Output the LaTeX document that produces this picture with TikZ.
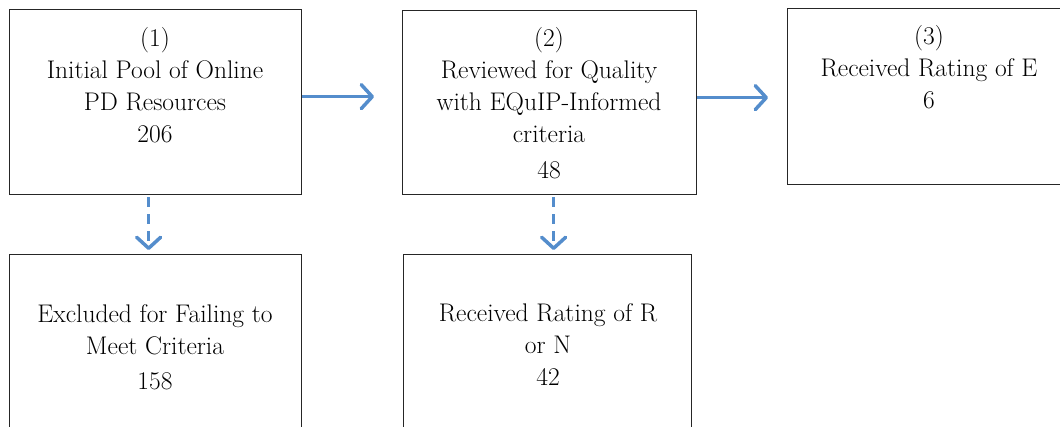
\documentclass[tikz,border=0pt]{standalone}
\usetikzlibrary{arrows.meta,calc}
\definecolor{flowblue}{RGB}{84,141,204}
\begin{document}
\begin{tikzpicture}[x=1pt,y=-1pt,
  box/.style={draw=black!85,line width=1.3pt,rectangle,anchor=north west,inner sep=0pt},
  lbl/.style={align=center,font=\fontsize{25.5}{32}\selectfont,inner sep=0pt,anchor=north},
  solidarrow/.style={draw=flowblue,line width=3pt,-{Straight Barb[length=11pt,width=24pt,line width=3.5pt,round]}},
  dasharrow/.style={draw=flowblue,line width=3pt,dash pattern=on 10pt off 7pt,-{Straight Barb[length=11pt,width=24pt,line width=3.5pt,round]}}]
\useasboundingbox (0,0) rectangle (1060,426);
\clip (0,0) rectangle (1060,426);
\node[box,minimum width=292pt,minimum height=185pt] (b1) at (9,9) {};
\node[box,minimum width=294pt,minimum height=184pt] (b2) at (402,10) {};
\node[box,minimum width=300pt,minimum height=176pt] (b3) at (787,8) {};
\node[box,minimum width=292pt,minimum height=200pt] (b4) at (9,254) {};
\node[box,minimum width=288pt,minimum height=200pt] (b5) at (403,254) {};
\node[lbl] (t1) at (155,27.5) {(1)\\Initial Pool of Online\\PD Resources\\206};
\node[lbl] (t2) at (549,27.5) {(2)\\Reviewed for Quality\\with EQuIP-Informed\\criteria\\[4pt]48};
\node[lbl] (t3) at (929,25) {(3)\\Received Rating of E\\6};
\node[lbl] (t4) at (155,304) {Excluded for Failing to\\Meet Criteria\\[3pt]158};
\node[lbl] (t5) at (548,303.5) {Received Rating of R\\or N\\42};
\draw[solidarrow] ($(b1.east)+(0,-5.5)$) -- ($(b2.west)+(-28,-6)$);
\draw[solidarrow] ($(b2.east)+(0,-5)$) -- ($(b3.west)+(-19,1)$);
\draw[dasharrow] ($(b1.south)+(-7,2)$) -- ($(b4.north)+(-7,-4)$);
\draw[dasharrow] ($(b2.south)+(4,2)$) -- ($(b5.north)+(6,-4)$);
\end{tikzpicture}
\end{document}
